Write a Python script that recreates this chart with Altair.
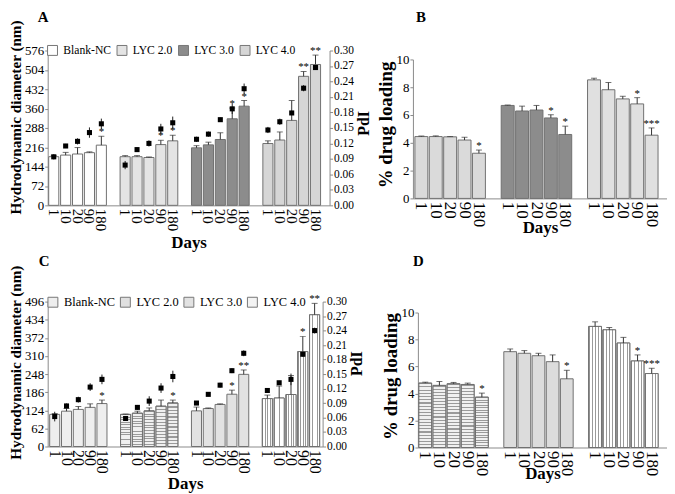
import altair as alt
import pandas as pd

FONT = "Liberation Serif"
DAYS = ["1", "10", "20", "90", "180"]

# ---------- Panel A : hydrodynamic diameter (bars) + PdI (squares) ----------
A_GROUPS = ["Blank-NC", "LYC 2.0", "LYC 3.0", "LYC 4.0"]
A_SIZE = [[181, 187, 191, 196, 224],
          [181, 181, 178, 226, 240],
          [214, 225, 245, 322, 369],
          [230, 243, 316, 480, 524]]
A_SIZE_SD = [[5, 10, 24, 3, 33],
             [4, 4, 2, 16, 21],
             [8, 10, 25, 40, 21],
             [10, 30, 74, 18, 35]]
A_PDI = [[0.094, 0.115, 0.124, 0.141, 0.158],
         [0.078, 0.108, 0.120, 0.148, 0.160],
         [0.128, 0.138, 0.166, 0.187, 0.226],
         [0.146, 0.162, 0.179, 0.227, 0.267]]
A_PDI_SD = [[0.005, 0.004, 0.006, 0.010, 0.010],
            [0.008, 0.004, 0.006, 0.010, 0.012],
            [0.005, 0.005, 0.004, 0.010, 0.010],
            [0.006, 0.006, 0.004, 0.006, 0.004]]
A_SIG = [["", "", "", "", "*"],
         ["", "", "", "*", "*"],
         ["", "", "", "*", "*"],
         ["", "", "", "**", "**"]]
A_FILL = ["#ffffff", "#e4e4e4", "#8c8c8c", "#d6d6d6"]

# ---------- Panel B : % drug loading ----------
B_GROUPS = ["LYC 2.0", "LYC 3.0", "LYC 4.0"]
B_VAL = [[4.45, 4.45, 4.43, 4.20, 3.25],
         [6.69, 6.29, 6.36, 5.79, 4.60],
         [8.53, 7.82, 7.16, 6.80, 4.55]]
B_SD = [[0.04, 0.05, 0.02, 0.20, 0.23],
        [0.03, 0.35, 0.33, 0.23, 0.60],
        [0.12, 0.52, 0.19, 0.45, 0.52]]
B_SIG = [["", "", "", "", "*"],
         ["", "", "", "*", "*"],
         ["", "", "", "*", "***"]]
B_FILL = ["#dadada", "#8c8c8c", "#e0e0e0"]

# ---------- Panel C : hydrodynamic diameter + PdI ----------
C_GROUPS = ["Blank-NC", "LYC 2.0", "LYC 3.0", "LYC 4.0"]
C_SIZE = [[110, 121, 127, 134, 147],
          [110, 114, 122, 138, 149],
          [122, 130, 144, 179, 247],
          [164, 166, 178, 325, 451]]
C_SIZE_SD = [[3, 9, 10, 12, 12],
             [1, 7, 10, 21, 10],
             [13, 2, 2, 14, 15],
             [12, 41, 65, 52, 39]]
C_PDI = [[0.062, 0.084, 0.097, 0.123, 0.139],
         [0.058, 0.081, 0.094, 0.121, 0.145],
         [0.090, 0.108, 0.127, 0.157, 0.193],
         [0.116, 0.132, 0.139, 0.191, 0.240]]
C_PDI_SD = [[0.010, 0.005, 0.006, 0.008, 0.010],
            [0.004, 0.005, 0.010, 0.010, 0.012],
            [0.004, 0.004, 0.005, 0.005, 0.006],
            [0.004, 0.004, 0.012, 0.005, 0.006]]
C_SIG = [["", "", "", "", "*"],
         ["", "", "", "", "*"],
         ["", "", "", "*", "**"],
         ["", "", "", "*", "**"]]
C_FILL = ["#eeeeee", "#e0e0e0", "#e2e2e2", "#f3f3f3"]

# ---------- Panel D : % drug loading ----------
D_GROUPS = ["LYC 2.0", "LYC 3.0", "LYC 4.0"]
D_VAL = [[4.77, 4.60, 4.72, 4.67, 3.73],
         [7.10, 6.98, 6.80, 6.36, 5.09],
         [8.97, 8.72, 7.74, 6.41, 5.48]]
D_SD = [[0.07, 0.29, 0.10, 0.10, 0.30],
        [0.20, 0.20, 0.18, 0.50, 0.63],
        [0.34, 0.17, 0.42, 0.45, 0.39]]
D_SIG = [["", "", "", "", "*"],
         ["", "", "", "", "*"],
         ["", "", "", "*", "***"]]
D_FILL = ["#e2e2e2", "#dcdcdc", "#f2f2f2"]

PDI_TICKS = [round(0.03 * i, 2) for i in range(11)]
AXIS_GRAY = "#8a8a8a"
LABEL_EXPR = "indexof(datum.value, '|') >= 0 ? split(datum.value, '|')[1] : ''"


def stripes(n, frac, bg, fg, vertical):
    """Hard-stop linear gradient used as a line-pattern fill."""
    stops = []
    for i in range(n):
        a = i / n
        b = (i + frac) / n
        c = (i + 1) / n
        stops += [{"offset": a, "color": fg}, {"offset": b, "color": fg},
                  {"offset": b, "color": bg}, {"offset": c, "color": bg}]
    if vertical:   # lines running vertically -> gradient along x
        return {"gradient": "linear", "x1": 0, "y1": 0, "x2": 1, "y2": 0, "stops": stops}
    return {"gradient": "linear", "x1": 0, "y1": 0, "x2": 0, "y2": 1, "stops": stops}


def panel(letter, groups, vals, sds, sigs, fills, ymax, ystep, ytitle, ytitle_size,
          width, height, yrange, pin, pout, align, title_dx, title_offset,
          xlabel_size, xtitle_pad, ytitle_y, pdi=None, pdi_sd=None,
          pdi_title_y=None, legend_size=None, patterns=None):
    rows, domain = [], []
    for gi, g in enumerate(groups):
        if gi > 0:
            domain.append(f"gap{gi}")
        for di, d in enumerate(DAYS):
            key = f"{gi}|{d}"
            domain.append(key)
            r = dict(key=key, group=g, value=vals[gi][di],
                     top=vals[gi][di] + sds[gi][di], sig=sigs[gi][di])
            if pdi is not None:
                r["pdi"] = pdi[gi][di]
                r["plo"] = pdi[gi][di] - pdi_sd[gi][di]
                r["phi"] = pdi[gi][di] + pdi_sd[gi][di]
            rows.append(r)
    df = pd.DataFrame(rows)

    x = alt.X("key:N",
              scale=alt.Scale(domain=domain, paddingInner=pin, paddingOuter=pout, align=align),
              axis=alt.Axis(title="Days", labelExpr=LABEL_EXPR, labelAngle=90,
                            labelAlign="left", labelBaseline="middle", labelPadding=3,
                            ticks=False, labelFontSize=xlabel_size, titleFontSize=17,
                            titleFontWeight="bold", titlePadding=xtitle_pad))

    yaxis = alt.Axis(title=ytitle, values=list(range(0, ymax + 1, ystep)),
                     titleFontSize=ytitle_size, titleFontWeight="bold", titleY=ytitle_y,
                     labelFontSize=13, tickSize=3, labelPadding=1, titlePadding=1)
    yscale = alt.Scale(domain=[0, ymax], nice=False, range=yrange)

    if legend_size:
        leg = alt.Legend(orient="none", legendX=-1, legendY=-6, direction="horizontal",
                         title=None, symbolType="square", symbolSize=100,
                         symbolStrokeColor="#777777", symbolStrokeWidth=1,
                         labelFont=FONT, labelFontSize=legend_size, columnPadding=3,
                         labelOffset=5)
    else:
        leg = None

    base = alt.Chart(df)
    yval = alt.Y("value:Q", scale=yscale, axis=yaxis)
    bars = base.mark_bar(stroke="#707070", strokeWidth=1).encode(
        x=x, y=yval,
        fill=alt.Fill("group:N", scale=alt.Scale(domain=groups, range=fills), legend=leg),
    )
    layers = [bars]
    for grp, grad in (patterns or []):
        layers.append(
            base.transform_filter(alt.datum.group == grp)
            .mark_bar(fill=grad, stroke="#707070", strokeWidth=1)
            .encode(x=x, y=yval))
    err = base.mark_rule(color="#333333").encode(x=x, y=yval, y2="top:Q")
    cap = base.mark_tick(color="#333333", thickness=1, size=6).encode(
        x=x, y=alt.Y("top:Q", scale=yscale, axis=yaxis))
    stars = base.mark_text(baseline="bottom", dy=1, fontSize=11, font=FONT,
                           color="black").encode(
        x=x, y=alt.Y("top:Q", scale=yscale, axis=yaxis), text="sig:N")
    main = alt.layer(*layers, err, cap, stars)

    if pdi is not None:
        paxis = alt.Axis(title="PdI", orient="right", values=PDI_TICKS, format=".2f",
                         titleFontSize=16, titleFontWeight="bold", titleAngle=270,
                         titleBaseline="top", titleY=pdi_title_y, labelFontSize=11.5,
                         tickSize=3, labelPadding=1, titlePadding=2)
        pscale = alt.Scale(domain=[0, 0.30], nice=False)
        perr = base.mark_rule(color="#222222").encode(
            x=x, y=alt.Y("plo:Q", scale=pscale, axis=paxis), y2="phi:Q")
        psq = base.mark_square(color="black", size=26, opacity=1).encode(
            x=x, y=alt.Y("pdi:Q", scale=pscale, axis=paxis))
        chart = alt.layer(main, alt.layer(perr, psq)).resolve_scale(y="independent")
    else:
        chart = main

    return chart.properties(
        width=width, height=height,
        title=alt.TitleParams(letter, anchor="start", frame="group", font=FONT,
                              fontSize=15, fontWeight="bold", dx=title_dx,
                              offset=title_offset))


A = panel("A", A_GROUPS, A_SIZE, A_SIZE_SD, A_SIG, A_FILL, 576, 72,
          "Hydrodynamic diameter (nm)", 15.3, 284, 156, [156, 0], 0.15, 0.42, 0.1,
          -10, -5.5, 15, 3.5, 67, pdi=A_PDI, pdi_sd=A_PDI_SD, pdi_title_y=73,
          legend_size=11.7)
B = panel("B", B_GROUPS, B_VAL, B_SD, B_SIG, B_FILL, 10, 2,
          "% drug loading", 19, 256, 149, [149, 9], 0.1, 0.38, 0.18,
          3, 25.5, 17, -7.5, 74.5)
C = panel("C", C_GROUPS, C_SIZE, C_SIZE_SD, C_SIG, C_FILL, 496, 62,
          "Hydrodynamic diameter (nm)", 15.3, 277, 146, [146, 0], 0.15, 0.21, 0.4,
          -9, -4.5, 16, 2, 61, pdi=C_PDI, pdi_sd=C_PDI_SD, pdi_title_y=62,
          legend_size=12.5,
          patterns=[("LYC 2.0", stripes(13, 0.35, "#f0f0f0", "#9a9a9a", False)),
                    ("LYC 4.0", stripes(4, 0.3, "#ffffff", "#9a9a9a", True))])
D = panel("D", D_GROUPS, D_VAL, D_SD, D_SIG, D_FILL, 10, 2,
          "% drug loading", 19, 251, 147, [147, 11], 0.1, 0.35, 0.1,
          -5, 32.5, 17, -10.5, 75,
          patterns=[("LYC 2.0", stripes(20, 0.35, "#f0f0f0", "#9a9a9a", False)),
                    ("LYC 4.0", stripes(4, 0.3, "#ffffff", "#9a9a9a", True))])

row1 = alt.hconcat(A, B, spacing=3).resolve_scale(fill="independent").resolve_legend(fill="independent")
row2 = alt.hconcat(C, D, spacing=15).resolve_scale(fill="independent").resolve_legend(fill="independent")

chart = alt.vconcat(row1, row2, spacing=4).resolve_scale(
    fill="independent").resolve_legend(fill="independent").properties(
    padding=0).configure_axis(
    labelFont=FONT, titleFont=FONT, labelColor="black", titleColor="black",
    domainColor=AXIS_GRAY, tickColor=AXIS_GRAY, grid=False,
).configure_view(stroke=None).configure_legend(labelColor="black")

chart.save("out.html", embed_options={"renderer": "svg", "actions": False})
